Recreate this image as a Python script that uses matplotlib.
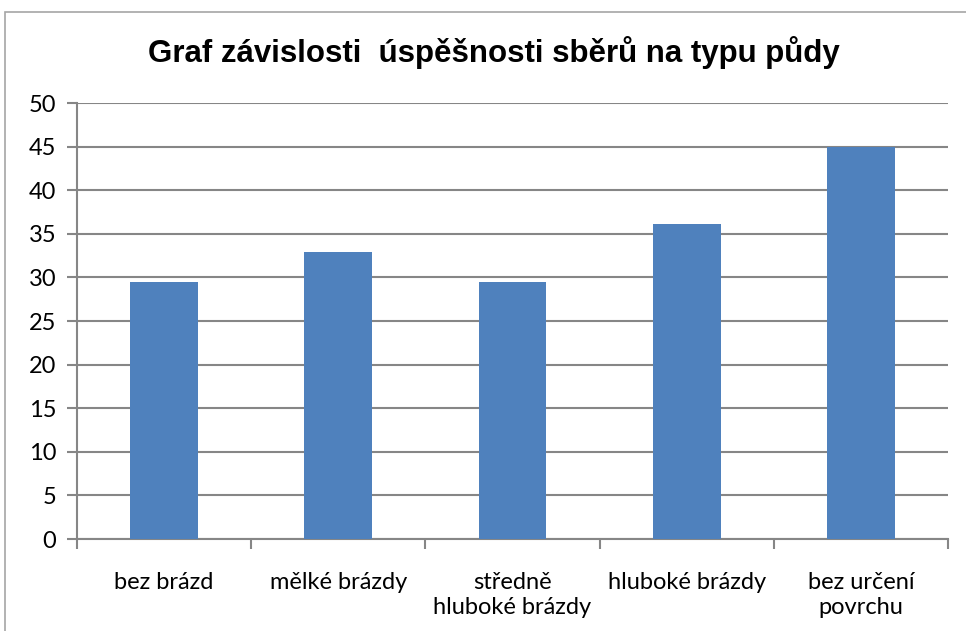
import matplotlib.pyplot as plt
from matplotlib.patches import Rectangle

# data
categories = ["bez brázd", "mělké brázdy", "středně\nhluboké brázdy",
              "hluboké brázdy", "bez určení\npovrchu"]
values = [29.5, 32.9, 29.5, 36.1, 45.0]
yticks = [0, 5, 10, 15, 20, 25, 30, 35, 40, 45, 50]

grid_col = "#868686"
bar_col = "#4F81BD"

fig = plt.figure(figsize=(9.66, 6.31), dpi=100)
ax = fig.add_axes([77 / 966, 1 - 539 / 631, (948 - 77) / 966, (539 - 103) / 631])

# chart frame (only left and top edges visible in the crop)
fig.patches.append(Rectangle((5 / 966, -0.1), 1.2, 1 - 12 / 631 + 0.1,
                             transform=fig.transFigure, fill=False,
                             edgecolor="#a6a6a6", linewidth=1.2))

x = range(len(categories))
ax.bar(x, values, width=0.39, color=bar_col, zorder=3)

ax.set_xlim(-0.5, len(categories) - 0.5)
ax.set_ylim(0, 50)
ax.set_yticks(yticks)
ax.yaxis.grid(True, color=grid_col, linewidth=1.5)
ax.set_axisbelow(True)

# category labels centred between boundary ticks
ax.set_xticks([i + 0.5 for i in range(-1, len(categories))])
ax.set_xticklabels([])
ax.set_xticks(list(x), minor=True)
ax.set_xticklabels(categories, minor=True)
ax.tick_params(axis="x", which="minor", length=0, pad=24)
ax.tick_params(axis="x", which="major", length=7, width=1.5, color=grid_col)
ax.tick_params(axis="y", length=7, width=1.5, color=grid_col, pad=8)

for lab in ax.get_xticklabels(minor=True) + ax.get_yticklabels():
    lab.set_fontfamily("Lato")
    lab.set_fontsize(17)
    lab.set_linespacing(1.22)

for s in ["top", "right"]:
    ax.spines[s].set_visible(False)
for s in ["left", "bottom"]:
    ax.spines[s].set_color(grid_col)
    ax.spines[s].set_linewidth(1.5)

fig.text(0.5 * (143 + 845) / 966, 1 - 53 / 631,
         "Graf závislosti  úspěšnosti sběrů na typu půdy",
         ha="center", va="center", fontsize=22.5, fontweight="bold",
         family="Liberation Sans")

fig.savefig("out.png", dpi=100)
